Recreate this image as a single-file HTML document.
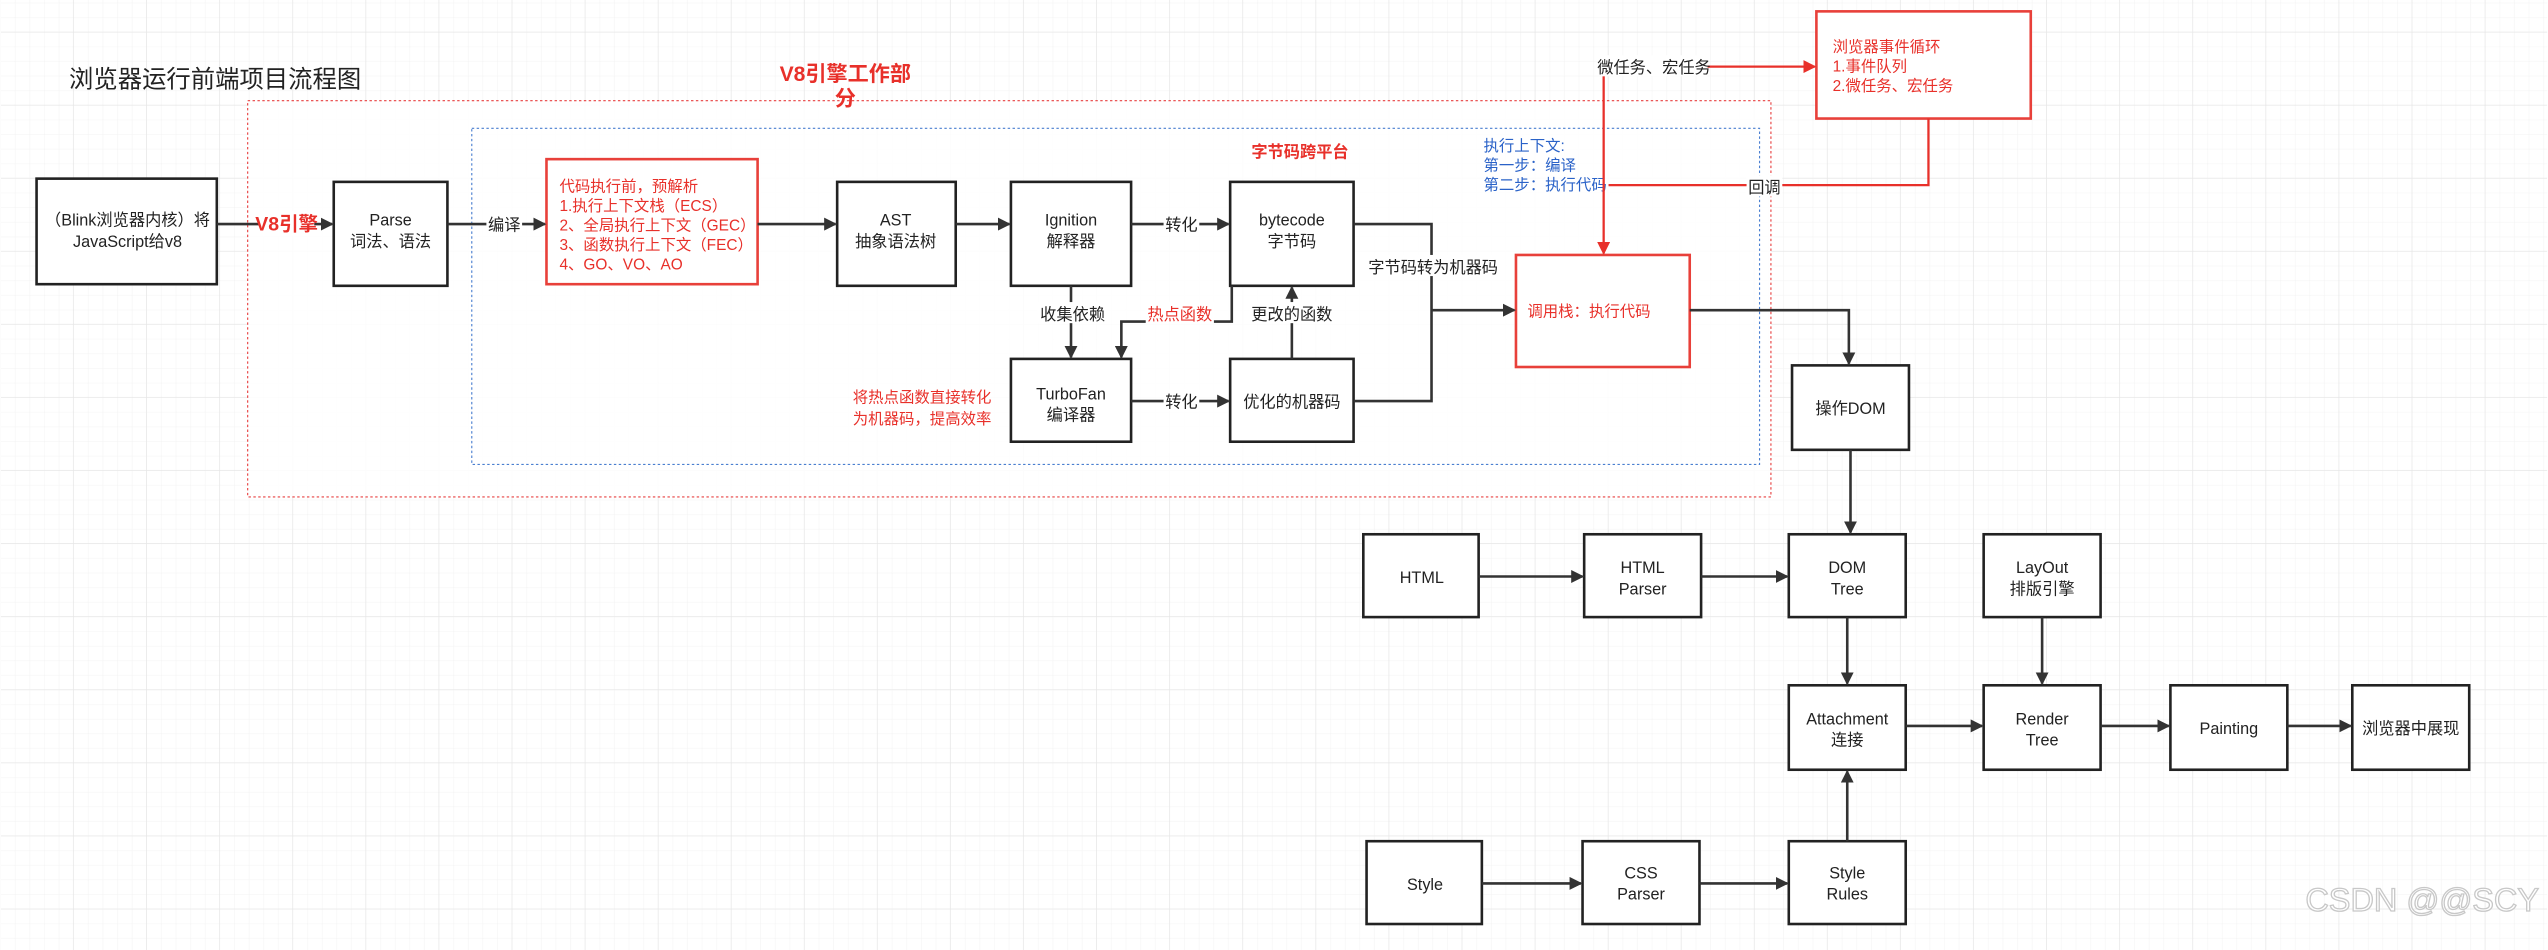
<!DOCTYPE html>
<html><head><meta charset="utf-8"><style>
html,body{margin:0;padding:0;background:#fff;}
svg{display:block;}
text{font-family:"Liberation Sans","Noto Sans CJK SC",sans-serif;}
</style></head><body>
<svg width="2548" height="950" viewBox="0 0 1568 585" xmlns="http://www.w3.org/2000/svg">
<defs>
<pattern id="minor" width="9" height="9" patternUnits="userSpaceOnUse"><path d="M9 0V9M0 9H9" fill="none" stroke="#f0f0f0" stroke-width="0.5"/></pattern>
<pattern id="major" x="0" y="20" width="45" height="45" patternUnits="userSpaceOnUse"><rect width="45" height="45" fill="url(#minor)"/><path d="M45 0V45M0 45H45" fill="none" stroke="#e6e6e6" stroke-width="0.9"/></pattern>
<marker id="a" markerWidth="8" markerHeight="8" refX="7" refY="4" orient="auto" markerUnits="userSpaceOnUse"><path d="M0 0L8 4L0 8z" fill="#333"/></marker>
<marker id="r" markerWidth="8" markerHeight="8" refX="7" refY="4" orient="auto" markerUnits="userSpaceOnUse"><path d="M0 0L8 4L0 8z" fill="#e8302a"/></marker>
</defs>
<rect width="1568" height="585" fill="#fff"/>
<rect width="1568" height="585" fill="url(#major)"/>

<text x="42" y="54" font-size="15" fill="#222">浏览器运行前端项目流程图</text>
<rect x="152" y="62" width="938" height="244" fill="#fff" fill-opacity="0.85" stroke="#e84040" stroke-width="0.7" stroke-dasharray="1.5,1.5"/>
<rect x="290" y="79" width="793" height="207" fill="none" stroke="#4a7fd0" stroke-width="0.7" stroke-dasharray="1.5,1.5"/>
<text x="520" y="50" font-size="13" font-weight="bold" fill="#e8302a" text-anchor="middle">V8引擎工作部</text>
<text x="520" y="65" font-size="13" font-weight="bold" fill="#e8302a" text-anchor="middle">分</text>

<g fill="#fff" stroke="#222" stroke-width="1.6">
<rect x="22" y="110" width="111" height="65"/>
<rect x="205" y="112" width="70" height="64"/>
<rect x="515" y="112" width="73" height="64"/>
<rect x="622" y="112" width="74" height="64"/>
<rect x="757" y="112" width="76" height="64"/>
<rect x="622" y="221" width="74" height="51"/>
<rect x="757" y="221" width="76" height="51"/>
<rect x="1103" y="225" width="72" height="52"/>
<rect x="839" y="329" width="71" height="51"/>
<rect x="975" y="329" width="72" height="51"/>
<rect x="1101" y="329" width="72" height="51"/>
<rect x="1221" y="329" width="72" height="51"/>
<rect x="1101" y="422" width="72" height="52"/>
<rect x="1221" y="422" width="72" height="52"/>
<rect x="1336" y="422" width="72" height="52"/>
<rect x="1448" y="422" width="72" height="52"/>
<rect x="841" y="518" width="71" height="51"/>
<rect x="974" y="518" width="72" height="51"/>
<rect x="1101" y="518" width="72" height="51"/>
</g>
<g fill="#fff" stroke="#e8403a" stroke-width="1.6">
<rect x="336" y="98" width="130" height="77"/>
<rect x="933" y="157" width="107" height="69"/>
<rect x="1118" y="7" width="132" height="66"/>
</g>

<g font-size="10" fill="#222" text-anchor="middle">
<text x="78" y="139">（Blink浏览器内核）将</text><text x="78" y="152">JavaScript给v8</text>
<text x="240" y="139">Parse</text><text x="240" y="152">词法、语法</text>
<text x="551" y="139">AST</text><text x="551" y="152">抽象语法树</text>
<text x="659" y="139">Ignition</text><text x="659" y="152">解释器</text>
<text x="795" y="139">bytecode</text><text x="795" y="152">字节码</text>
<text x="659" y="246">TurboFan</text><text x="659" y="259">编译器</text>
<text x="795" y="251">优化的机器码</text>
<text x="1139" y="255">操作DOM</text>
<text x="875" y="359">HTML</text>
<text x="1011" y="353">HTML</text><text x="1011" y="366">Parser</text>
<text x="1137" y="353">DOM</text><text x="1137" y="366">Tree</text>
<text x="1257" y="353">LayOut</text><text x="1257" y="366">排版引擎</text>
<text x="1137" y="446">Attachment</text><text x="1137" y="459">连接</text>
<text x="1257" y="446">Render</text><text x="1257" y="459">Tree</text>
<text x="1372" y="452">Painting</text>
<text x="1484" y="452">浏览器中展现</text>
<text x="877" y="548">Style</text>
<text x="1010" y="541">CSS</text><text x="1010" y="554">Parser</text>
<text x="1137" y="541">Style</text><text x="1137" y="554">Rules</text>
</g>

<g font-size="9.5" fill="#e8302a">
<text x="344" y="118">代码执行前，预解析</text>
<text x="344" y="130">1.执行上下文栈（ECS）</text>
<text x="344" y="142">2、全局执行上下文（GEC）</text>
<text x="344" y="154">3、函数执行上下文（FEC）</text>
<text x="344" y="166">4、GO、VO、AO</text>
<text x="940" y="195">调用栈：执行代码</text>
<text x="1128" y="32">浏览器事件循环</text>
<text x="1128" y="44">1.事件队列</text>
<text x="1128" y="56">2.微任务、宏任务</text>
<text x="610" y="248" text-anchor="end">将热点函数直接转化</text>
<text x="610" y="261" text-anchor="end">为机器码，提高效率</text>
</g>
<text x="800" y="97" font-size="10" font-weight="bold" fill="#e8302a" text-anchor="middle">字节码跨平台</text>
<g font-size="9.5" fill="#2a62c8">
<text x="913" y="93">执行上下文:</text>
<text x="913" y="105">第一步：编译</text>
<text x="913" y="117">第二步：执行代码</text>
</g>

<g fill="none" stroke="#333" stroke-width="1.6">
<path d="M133 138H204" marker-end="url(#a)"/>
<path d="M275 138H335" marker-end="url(#a)"/>
<path d="M466 138H514" marker-end="url(#a)"/>
<path d="M588 138H621" marker-end="url(#a)"/>
<path d="M696 138H756" marker-end="url(#a)"/>
<path d="M696 247H756" marker-end="url(#a)"/>
<path d="M659 176V220" marker-end="url(#a)"/>
<path d="M758 176V198H690V220" marker-end="url(#a)"/>
<path d="M795 221V177" marker-end="url(#a)"/>
<path d="M833 138H881V247H833"/>
<path d="M881 191H932" marker-end="url(#a)"/>
<path d="M1040 191H1138V224" marker-end="url(#a)"/>
<path d="M1139 277V328" marker-end="url(#a)"/>
<path d="M910 355H974" marker-end="url(#a)"/>
<path d="M1047 355H1100" marker-end="url(#a)"/>
<path d="M1137 380V421" marker-end="url(#a)"/>
<path d="M1257 380V421" marker-end="url(#a)"/>
<path d="M1173 447H1220" marker-end="url(#a)"/>
<path d="M1293 447H1335" marker-end="url(#a)"/>
<path d="M1408 447H1447" marker-end="url(#a)"/>
<path d="M912 544H973" marker-end="url(#a)"/>
<path d="M1046 544H1100" marker-end="url(#a)"/>
<path d="M1137 518V475" marker-end="url(#a)"/>
</g>
<g fill="none" stroke="#e8302a" stroke-width="1.4">
<path d="M1050 41H1117" marker-end="url(#r)"/>
<path d="M987 45V156" marker-end="url(#r)"/>
<path d="M1187 73V114H990"/>
</g>

<g font-size="10" text-anchor="middle">
<rect x="159" y="130" width="34" height="15" fill="#fff"/>
<text x="176" y="142" font-size="12" font-weight="bold" fill="#e8302a">V8引擎</text>
<rect x="299" y="131" width="22" height="13" fill="#fff"/>
<text x="310" y="142" fill="#222">编译</text>
<rect x="716" y="131" width="22" height="13" fill="#fff"/>
<text x="727" y="142" fill="#222">转化</text>
<rect x="716" y="240" width="22" height="13" fill="#fff"/>
<text x="727" y="251" fill="#222">转化</text>
<rect x="638" y="186" width="42" height="13" fill="#fff"/>
<text x="660" y="197" fill="#222">收集依赖</text>
<rect x="705" y="186" width="42" height="13" fill="#fff"/>
<text x="726" y="197" fill="#e8302a">热点函数</text>
<rect x="770" y="186" width="50" height="13" fill="#fff"/>
<text x="795" y="197" fill="#222">更改的函数</text>
<rect x="846" y="157" width="72" height="13" fill="#fff"/>
<text x="882" y="168" fill="#222">字节码转为机器码</text>
<rect x="985" y="34" width="66" height="13" fill="#fff"/>
<text x="1018" y="45" fill="#222">微任务、宏任务</text>
<rect x="1075" y="108" width="22" height="13" fill="#fff"/>
<text x="1086" y="119" fill="#222">回调</text>
</g>
<text x="1563" y="561" font-size="20" fill="#fff" stroke="#c8c8c8" stroke-width="0.8" text-anchor="end">CSDN @@SCY</text>
</svg>
</body></html>
